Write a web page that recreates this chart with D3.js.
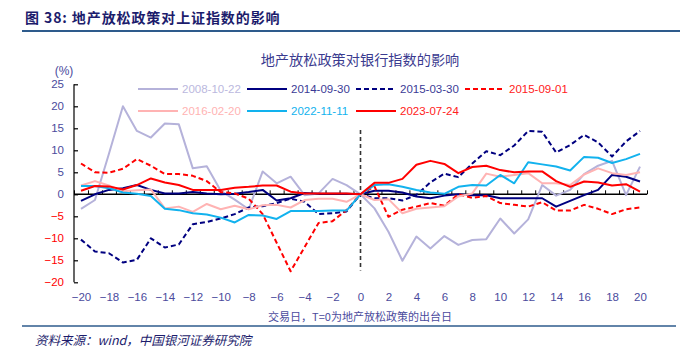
<!DOCTYPE html>
<html>
<head>
<meta charset="utf-8">
<script src="https://cdn.jsdelivr.net/npm/d3@7"></script>
<style>
  html, body { margin: 0; padding: 0; background: #fff; }
  svg { display: block; }
</style>
</head>
<body>
<svg id="chart" width="698" height="349"></svg>
<script>
// Trading days relative to the policy date (T = 0)
const days = [-20,-19,-18,-17,-16,-15,-14,-13,-12,-11,-10,-9,-8,-7,-6,-5,-4,-3,-2,-1,0,
              1,2,3,4,5,6,7,8,9,10,11,12,13,14,15,16,17,18,19,20];
const xTickLabels = [-20,-18,-16,-14,-12,-10,-8,-6,-4,-2,0,2,4,6,8,10,12,14,16,18,20];
const yTickLabels = [-20,-15,-10,-5,0,5,10,15,20,25];

// Cumulative change of the bank index (%) around each easing date
const s20081022 = [-3.3,-1.3,9.2,20.0,14.4,12.9,16.1,15.9,5.9,6.4,0.8,-1.2,-3.4,5.2,2.5,4.0,-0.2,0.2,3.5,2.1,0,
                   -3.2,-8.5,-15.1,-9.6,-12.3,-9.5,-11.5,-10.4,-10.2,-5.5,-8.9,-5.7,2.1,-0.3,1.0,4.6,6.5,7.6,-0.2,6.3];
const s20140930 = [-1.5,0,1.0,1.4,2.1,1.0,0.2,0.2,0.5,0.2,0,0.1,0.5,1.0,-1.4,-0.9,0.3,0.1,0.1,0.1,0,
                   0.8,0.8,0.4,-0.5,-0.9,-0.3,0,-0.2,-0.2,-0.9,-0.9,-0.9,-0.9,-2.8,-1.5,-0.2,1.0,4.4,4.0,2.9];
const s20150330 = [-10.3,-13.0,-13.4,-15.5,-14.9,-10.0,-12.1,-11.4,-6.8,-6.3,-5.5,-4.5,-3.0,-2.7,-2.0,-1.0,-1.7,-4.5,-4.3,-3.9,0,
                   -0.9,-0.9,-1.4,-0.15,2.7,4.7,3.9,7.0,9.8,8.9,11.1,14.4,14.2,9.5,11.2,13.5,11.8,8.6,12.0,14.4];
const s20150901 = [7.0,5.0,4.9,5.8,8.0,6.5,4.6,4.6,4.2,3.0,0.5,0.2,-1.0,-4.5,-11.0,-17.5,-12.0,-6.5,-6.1,-3.6,0,
                   1.8,-5.1,-3.5,-2.8,-2.0,-2.6,0,-0.8,-0.4,-2.0,-2.4,-2.8,-1.8,-3.7,-3.7,-2.4,-3.3,-4.5,-3.4,-3.0];
const s20160220 = [2.0,3.0,2.0,0.7,0.9,1.1,-3.2,-2.8,-4.0,-2.2,-3.4,-2.6,-3.4,-2.5,-2.4,-3.0,-1.3,-1.0,-1.0,-1.7,0,
                   -1.3,-1.1,-4.3,-3.3,-3.0,-2.7,-0.5,0.2,4.7,4.0,4.4,4.8,2.5,2.5,2.1,4.5,5.9,4.8,4.4,5.0];
const s20221111 = [1.9,1.9,1.4,0.4,0.1,-0.4,-3.3,-3.6,-4.3,-4.6,-5.3,-6.4,-4.7,-4.8,-5.6,-3.8,-3.8,-3.8,-3.7,-3.7,0,
                   2.1,2.3,1.7,1.0,0.4,0.1,1.7,2.1,2.0,4.4,2.5,7.3,6.8,6.3,5.4,8.5,8.3,7.1,8.0,9.2];
const s20230724 = [0.8,1.9,1.8,1.1,2.1,3.6,2.7,2.1,1.0,1.0,1.0,1.5,1.7,2.0,2.0,0.6,0.2,0.2,0.2,0.2,0,
                   2.6,2.6,3.5,6.7,7.6,6.9,4.8,6.2,6.5,5.5,5.0,5.2,5.2,3.0,1.7,2.9,2.7,2.0,2.3,0.6];

const seriesNames = ["2008-10-22","2014-09-30","2015-03-30","2015-09-01","2016-02-20","2022-11-11","2023-07-24"];
const seriesValues = [s20081022, s20140930, s20150330, s20150901, s20160220, s20221111, s20230724];

const styles = {
  "2008-10-22": { color: "#b5b2da", text: "#bbb8de", dash: null },
  "2014-09-30": { color: "#000080", text: "#3a3a96", dash: null },
  "2015-03-30": { color: "#000080", text: "#3a3a96", dash: "5,3" },
  "2015-09-01": { color: "#ff0000", text: "#ff2020", dash: "5,3" },
  "2016-02-20": { color: "#ffb3b3", text: "#ffb3b3", dash: null },
  "2022-11-11": { color: "#12b2ee", text: "#12b2ee", dash: null },
  "2023-07-24": { color: "#ff0000", text: "#ff2020", dash: null }
};

const svg = d3.select("#chart");
const cjk = "'Noto Sans CJK SC', 'Noto Sans', sans-serif";
const latin = "'Liberation Sans', Arial, sans-serif";
const axisText = "#4b4b9d";
const navyText = "#1c1c6c";

// Page header and rules
svg.append("text")
  .attr("x", 25).attr("y", 23)
  .attr("font-family", cjk).attr("font-weight", "bold").attr("font-size", 14)
  .attr("letter-spacing", 0.9)
  .attr("fill", navyText)
  .text("图 38:  地产放松政策对上证指数的影响");
svg.append("line").attr("x1", 22).attr("x2", 680).attr("y1", 31).attr("y2", 31)
  .attr("stroke", "#2e5b8c").attr("stroke-width", 2.2);
svg.append("line").attr("x1", 22).attr("x2", 676).attr("y1", 326).attr("y2", 326)
  .attr("stroke", "#2e5b8c").attr("stroke-width", 1.5);
svg.append("text")
  .attr("x", 35).attr("y", 345)
  .attr("font-family", cjk).attr("font-style", "italic").attr("font-size", 12.5)
  .attr("fill", navyText)
  .text("资料来源：wind，中国银河证券研究院");

// Chart title
svg.append("text")
  .attr("x", 360).attr("y", 65).attr("text-anchor", "middle")
  .attr("font-family", cjk).attr("font-size", 14.2)
  .attr("fill", "#3b3b8f")
  .text("地产放松政策对银行指数的影响");

// Scales
const x = d3.scaleLinear().domain([-20.5, 20.5]).range([74, 647]);
const y = d3.scaleLinear().domain([-20, 25]).range([282.3, 84.3]);

// Y axis with inward ticks
const yAxis = svg.append("g").attr("transform", `translate(${x(-20.5)},0)`)
  .call(d3.axisLeft(y).tickValues(yTickLabels).tickSize(-4).tickPadding(10).tickFormat(d3.format("d")));
yAxis.select(".domain").attr("stroke", "#000").attr("stroke-width", 1.2).attr("d", `M0,${y(25)}V${y(-20)}`);
yAxis.selectAll(".tick line").attr("stroke", "#000").attr("stroke-width", 1.2);
yAxis.selectAll(".tick text")
  .attr("font-family", latin).attr("font-size", 11.5)
  .attr("fill", d => d < 0 ? "#ff0000" : axisText);

svg.append("text")
  .attr("x", 64).attr("y", 75).attr("text-anchor", "middle")
  .attr("font-family", latin).attr("font-size", 12).attr("fill", axisText)
  .text("(%)");

// Zero line with category ticks between days
const tickPos = days.map(d => d - 0.5).concat([days[days.length - 1] + 0.5]);
const zeroAxis = svg.append("g").attr("transform", `translate(0,${y(0)})`)
  .call(d3.axisTop(x).tickValues(tickPos).tickSize(4).tickFormat(""));
zeroAxis.select(".domain").attr("stroke", "#000").attr("stroke-width", 1.6).attr("d", `M${x(-20.5)},0H${x(20.5)}`);
zeroAxis.selectAll(".tick line").attr("stroke", "#000").attr("stroke-width", 1);

// Day labels along the bottom
const xLab = svg.append("g").attr("transform", `translate(0,${y(-20)})`)
  .call(d3.axisBottom(x).tickValues(xTickLabels).tickSize(0).tickPadding(11).tickFormat(d3.format("d")));
xLab.select(".domain").remove();
xLab.selectAll(".tick text").attr("font-family", latin).attr("font-size", 11.5).attr("fill", axisText);

svg.append("text")
  .attr("x", 360).attr("y", 321).attr("text-anchor", "middle")
  .attr("font-family", cjk).attr("font-size", 11).attr("fill", axisText)
  .text("交易日，T=0为地产放松政策的出台日");

// Policy date marker
svg.append("line")
  .attr("x1", x(0)).attr("x2", x(0)).attr("y1", y(14.6)).attr("y2", y(-17.3))
  .attr("stroke", "#333").attr("stroke-width", 1.6).attr("stroke-dasharray", "4,3");

// Series lines
const line = d3.line().x((d, i) => x(days[i])).y(d => y(d));
seriesNames.forEach((name, k) => {
  const st = styles[name];
  svg.append("path")
    .datum(seriesValues[k])
    .attr("d", line)
    .attr("fill", "none")
    .attr("stroke", st.color)
    .attr("stroke-width", 2)
    .attr("stroke-linejoin", "round")
    .attr("stroke-dasharray", st.dash);
});

// Legend
const legendSlots = [[138, 89], [247, 89], [356, 89], [465, 89], [138, 111], [247, 111], [356, 111]];
seriesNames.forEach((name, k) => {
  const st = styles[name];
  const [lx, ly] = legendSlots[k];
  svg.append("line")
    .attr("x1", lx).attr("x2", lx + 40).attr("y1", ly).attr("y2", ly)
    .attr("stroke", st.color).attr("stroke-width", 2).attr("stroke-dasharray", st.dash);
  svg.append("text")
    .attr("x", lx + 44).attr("y", ly + 4)
    .attr("font-family", latin).attr("font-size", 11.5)
    .attr("fill", st.text)
    .text(name);
});
</script>
</body>
</html>
